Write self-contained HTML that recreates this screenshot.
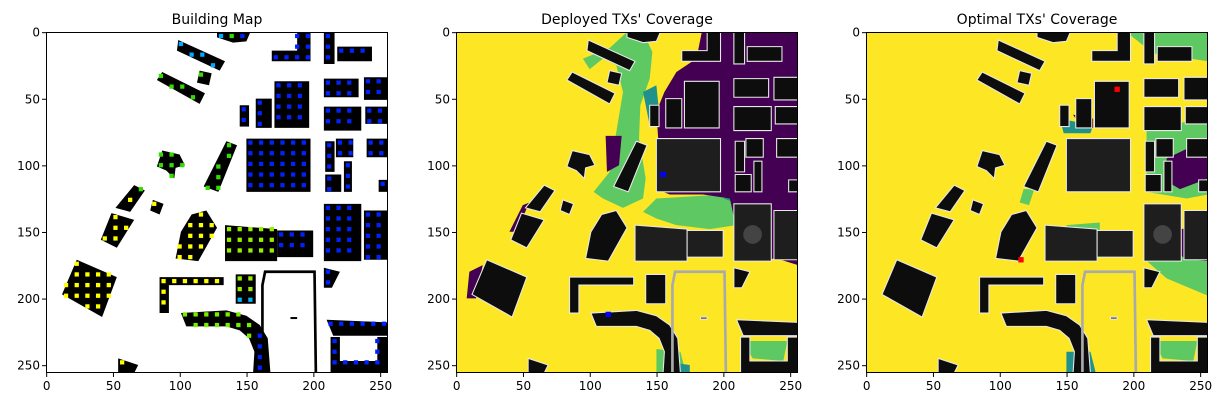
<!DOCTYPE html>
<html><head><meta charset="utf-8"><style>
body{margin:0;background:#fff;width:1224px;height:407px;overflow:hidden;font-family:"DejaVu Sans","Liberation Sans",sans-serif}
svg{position:absolute;left:0;top:0}
</style></head><body>
<svg id="fig" width="1224" height="407"></svg>
<script>
const tickValues=[0,50,100,150,200,250];
const panelTitles=["Building Map","Deployed TXs' Coverage","Optimal TXs' Coverage"];
const panelLefts=[46,456,866];
const buildings=[
[[128,0],[153,0],[150,7],[140,8],[128,4]],
[[99,6],[134,22],[130,29],[98,14]],
[[115,29],[124,31],[122,40],[113,38]],
[[87,30],[119,46],[115,54],[83,36]],
[[188,0],[198,0],[198,22],[169,22],[169,14],[188,14]],
[[208,0],[216,0],[216,24],[208,24]],
[[218,11],[244,11],[244,22],[218,22]],
[[171,37],[197,37],[197,72],[171,72]],
[[157,50],[169,50],[169,72],[157,72]],
[[145,55],[152,55],[152,71],[145,71]],
[[208,35],[234,35],[234,49],[208,49]],
[[238,34],[256,34],[256,51],[238,51]],
[[208,56],[236,56],[236,74],[208,74]],
[[239,56],[256,56],[256,69],[239,69]],
[[150,80],[198,80],[198,120],[150,120]],
[[209,82],[216,82],[216,105],[209,105]],
[[217,80],[230,80],[230,94],[217,94]],
[[240,80],[256,80],[256,94],[240,94]],
[[223,97],[229,97],[229,120],[223,120]],
[[209,107],[221,107],[221,120],[209,120]],
[[249,111],[256,111],[256,120],[249,120]],
[[135,82],[143,85],[129,120],[118,116]],
[[87,89],[100,92],[104,100],[97,102],[96,110],[90,104],[83,101]],
[[66,115],[74,119],[63,135],[52,132]],
[[49,136],[66,141],[53,162],[41,156]],
[[80,126],[88,129],[85,137],[78,134]],
[[120,134],[128,147],[114,172],[97,170],[101,150],[109,137]],
[[134,145],[173,148],[173,172],[134,172]],
[[173,149],[200,149],[200,169],[173,169]],
[[208,129],[236,129],[236,172],[208,172]],
[[238,134],[256,134],[256,171],[238,171]],
[[23,171],[53,184],[42,214],[12,197]],
[[85,184],[133,184],[133,190],[92,190],[92,211],[85,211]],
[[142,182],[157,182],[157,204],[142,204]],
[[101,211],[135,209],[150,213],[160,220],[166,230],[168,256],[155,256],[156,240],[152,230],[145,224],[135,221],[105,221]],
[[208,177],[220,180],[214,192],[208,192]],
[[210,216],[256,218],[256,228],[215,228]],
[[213,229],[220,229],[220,247],[248,247],[248,229],[256,229],[256,256],[213,256]],
[[54,245],[69,250],[66,256],[54,256]],
[[183,214],[188,214],[188,215.5],[183,215.5]]
];
const roadLine=[[162,256],[162,190],[164,180],[201,180],[202,256]];
const deployedPurple=[[[135,0],[256,0],[256,175],[240,170],[215,172],[205,125],[185,122],[160,122],[150,118],[152,90],[150,60],[156,45],[165,30],[180,20],[184,0]],[[112,78],[124,78],[122,100],[113,105]],[[10,180],[20,175],[15,200],[8,200]],[[50,130],[55,128],[45,150],[40,150]]];
const deployedGreen=[[[128,0],[140,0],[147,15],[145,35],[138,55],[137,80],[142,110],[140,125],[125,132],[110,125],[103,120],[115,105],[120,75],[125,45],[120,25],[110,20],[100,28],[95,20],[115,12]],[[150,125],[200,122],[210,130],[210,145],[190,148],[165,145],[150,140],[140,135]],[[215,232],[248,232],[245,247],[222,245]],[[150,238],[168,240],[172,256],[150,256]]];
const deployedTeal=[[[140,45],[150,40],[152,60],[145,70]],[[200,125],[256,110],[256,122],[215,130]],[[160,248],[175,250],[175,256],[160,256]]];
const optimalPurple=[[[225,95],[256,80],[256,110],[235,118],[225,112]],[[222,150],[256,145],[256,172],[238,170]],[[155,62],[170,65],[170,72],[160,70]]];
const optimalGreen=[[[210,72],[256,65],[256,122],[240,125],[210,120]],[[208,170],[256,162],[256,198],[225,185]],[[195,0],[256,0],[256,22],[215,16]],[[118,118],[126,118],[122,130],[115,128]],[[150,145],[175,143],[175,150],[150,150]],[[215,232],[248,232],[245,247],[222,245]]];
const optimalTeal=[[[145,65],[170,70],[168,76],[148,76]],[[150,240],[168,240],[172,256],[150,256]]];
const deployedTx=[[155,107],[114,212]];
const optimalTx=[[188,43],[116,171]];

const NS="http://www.w3.org/2000/svg";
const fig=document.getElementById('fig');
const W=342,H=341,TOP=32;
function mk(t,a,p){const e=document.createElementNS(NS,t);for(const k in a)e.setAttribute(k,a[k]);p.appendChild(e);return e;}
function pts(p){return p.map(q=>q.join(',')).join(' ');}
function inside(x,y,poly){let c=false;for(let i=0,j=poly.length-1;i<poly.length;j=i++){const[xi,yi]=poly[i],[xj,yj]=poly[j];if(((yi>y)!=(yj>y))&&(x<(xj-xi)*(y-yi)/(yj-yi)+xi))c=!c;}return c;}
panelLefts.forEach((L,pi)=>{
  const g=mk('g',{},fig);
  
  
  const inner=mk('svg',{x:L,y:TOP,width:W,height:H,viewBox:'0 0 256 256',preserveAspectRatio:'none'},g);
  
  
  mk('rect',{x:0,y:0,width:256,height:256,fill:pi==0?'#ffffff':'#fde725'},inner);
  if(pi>0){
    const P=pi==1?deployedPurple:optimalPurple,G=pi==1?deployedGreen:optimalGreen,T=pi==1?deployedTeal:optimalTeal;
    G.forEach(p=>{const e=mk('polygon',{points:pts(p),fill:'#5ec962'},inner);});
    T.forEach(p=>{const e=mk('polygon',{points:pts(p),fill:'#21918c'},inner);});
    P.forEach(p=>{const e=mk('polygon',{points:pts(p),fill:'#440154'},inner);});
  }
  buildings.forEach((b,bi)=>{
    const e=mk('polygon',{points:pts(b),fill:pi==0?'#000':(bi==14||bi>=27&&bi<=30?'#1e1e1e':'#0d0d0d'),stroke:pi==0?'none':'#e8e8e8','stroke-width':pi==0?0:0.8},inner);
    
    
  });
  const rl=mk('polyline',{points:pts(roadLine),fill:'none',stroke:pi==0?'#000':'#aaa','stroke-width':2},inner);
  
  
  if(pi>0){const c=mk('circle',{cx:222,cy:152,r:7,fill:'#444'},inner);}
  if(pi==0){
    buildings.forEach(b=>{
      const xs=b.map(q=>q[0]),ys=b.map(q=>q[1]);
      const x0=Math.min(...xs),x1=Math.max(...xs),y0=Math.min(...ys),y1=Math.max(...ys);
      for(let y=y0+3;y<y1-1;y+=8)for(let x=x0+3;x<x1-1;x+=8){
        if(!inside(x,y,b))continue;
        let col=x>140?(x<160&&y>200?'#00b4ff':'#0022ff'):(y>120?'#ffff00':'#33dd00');
        if(x>130&&x<175&&y>140&&y<200)col='#99ee00';
        if(x>100&&x<135&&y<30)col='#00aaff';
        if(x>100&&x<160&&y>205)col='#77ee00';
        const d=mk('rect',{x:x-1.6,y:y-1.6,width:3.2,height:3.2,fill:col},inner);
        
        
      }
    });
  } else {
    (pi==1?deployedTx:optimalTx).forEach(t=>{
      const d=mk('rect',{x:t[0]-2,y:t[1]-2,width:4,height:4,fill:pi==1?'#0000ff':'#ff0000'},inner);
      
      
    });
  }
  const fr=mk('rect',{x:L+0.5,y:TOP+0.5,width:W-1,height:H-1,fill:'none',stroke:'#000','stroke-width':1},g);
  
  
  const sx=v=>L+(v+0.5)*W/256, sy=v=>TOP+(v+0.5)*H/256;
  tickValues.forEach(v=>{
    const x=sx(v),y=sy(v);
    const t1=mk('line',{x1:x,y1:TOP+H,x2:x,y2:TOP+H+4,stroke:'#000'},g);
    
    const l1=mk('text',{x:x,y:TOP+H+17,'text-anchor':'middle','font-size':12,fill:'#000'},g);
    l1.textContent=v;
    const t2=mk('line',{x1:L-4,y1:y,x2:L,y2:y,stroke:'#000'},g);
    
    const l2=mk('text',{x:L-6,y:y+4,'text-anchor':'end','font-size':12,fill:'#000'},g);
    l2.textContent=v;
  });
  const tt=mk('text',{x:L+W/2,y:24,'text-anchor':'middle','font-size':14,fill:'#000'},g);
  
  
  tt.textContent=panelTitles[pi];
});
</script>
</body></html>
